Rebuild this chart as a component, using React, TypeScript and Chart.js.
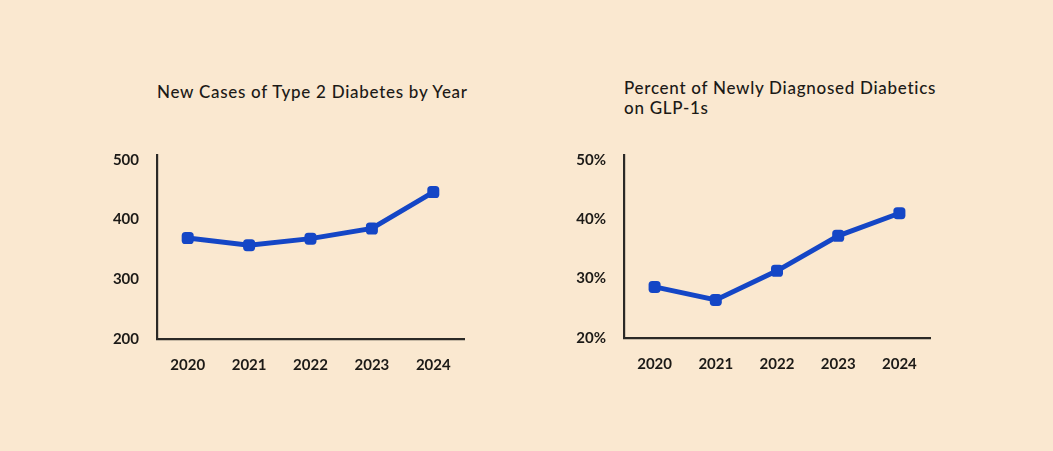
import React, { useEffect, useRef } from "react";
import { Chart, registerables } from "chart.js";

Chart.register(...registerables);

const years = ["2020", "2021", "2022", "2023", "2024"];
const newCases = [369, 357, 368, 385, 446];
const glpPercent = [28.6, 26.4, 31.3, 37.2, 41.0];
const casesTicks = [200, 300, 400, 500];
const percentTicks = [20, 30, 40, 50];

const titleLeft = ["New Cases of Type 2 Diabetes by Year"];
const titleRight = ["Percent of Newly Diagnosed Diabetics", "on GLP-1s"];

const BG = "#FAE8D0";
const BLUE = "#1446C6";
const INK = "#1c1a17";
const AXIS = "#2b2926";
const FONT = "Lato, 'DejaVu Sans', sans-serif";

type Props = {
  values: number[];
  ticks: number[];
  min: number;
  max: number;
  fmt: (v: number) => string;
  yWidth: number;
  padRight: number;
  xHeight: number;
};

function LineChart({ values, ticks, min, max, fmt, yWidth, padRight, xHeight }: Props) {
  const ref = useRef<HTMLCanvasElement | null>(null);
  useEffect(() => {
    if (!ref.current) return;
    const chart = new Chart(ref.current, {
      type: "line",
      data: {
        labels: years,
        datasets: [
          {
            data: values,
            borderColor: BLUE,
            backgroundColor: BLUE,
            borderWidth: 5,
            pointStyle: "rectRounded",
            pointRadius: 7,
            pointHoverRadius: 7,
            pointBorderWidth: 0,
            tension: 0,
          },
        ],
      },
      options: {
        animation: false,
        responsive: true,
        maintainAspectRatio: false,
        layout: { padding: { top: 0, right: padRight, left: 0, bottom: 0 } },
        plugins: { legend: { display: false }, tooltip: { enabled: false }, title: { display: false } },
        scales: {
          x: {
            offset: true,
            grid: { display: false, drawTicks: false },
            border: { display: true, color: AXIS, width: 2.2 },
            ticks: {
              color: INK,
              padding: 17,
              font: { family: FONT, size: 15, weight: "bold" },
            },
            afterFit: (s: any) => {
              s.height = xHeight;
            },
          },
          y: {
            min,
            max,
            grid: { display: false, drawTicks: false },
            border: { display: true, color: AXIS, width: 2.2 },
            afterBuildTicks: (s: any) => {
              s.ticks = ticks.map((v) => ({ value: v }));
            },
            ticks: {
              color: INK,
              padding: 18,
              font: { family: FONT, size: 15, weight: "bold" },
              callback: (v: any) => fmt(Number(v)),
            },
            afterFit: (s: any) => {
              s.width = yWidth;
            },
          },
        },
      },
    });
    return () => chart.destroy();
  }, []);
  return <canvas ref={ref} />;
}

const titleStyle: React.CSSProperties = {
  position: "absolute",
  fontFamily: FONT,
  fontSize: 17,
  fontWeight: 500,
  color: INK,
  lineHeight: "20px",
  letterSpacing: "0.72px",
  whiteSpace: "nowrap",
};

export default function App() {
  return (
    <div
      style={{
        position: "fixed",
        left: 0,
        top: 0,
        width: 1053,
        height: 451,
        background: BG,
        overflow: "hidden",
      }}
    >
      <div style={{ ...titleStyle, left: 157, top: 82 }}>
        {titleLeft.map((t) => (
          <div key={t}>{t}</div>
        ))}
      </div>
      <div style={{ ...titleStyle, left: 624, top: 78 }}>
        {titleRight.map((t) => (
          <div key={t}>{t}</div>
        ))}
      </div>
      <div style={{ position: "absolute", left: 100, top: 128, width: 380, height: 252 }}>
        <LineChart
          values={newCases}
          ticks={casesTicks}
          min={200}
          max={508}
          fmt={(v) => String(v)}
          yWidth={57}
          padRight={16}
          xHeight={41}
        />
      </div>
      <div style={{ position: "absolute", left: 570, top: 128, width: 380, height: 252 }}>
        <LineChart
          values={glpPercent}
          ticks={percentTicks}
          min={20}
          max={50.8}
          fmt={(v) => v + "%"}
          yWidth={54}
          padRight={20}
          xHeight={42}
        />
      </div>
    </div>
  );
}
